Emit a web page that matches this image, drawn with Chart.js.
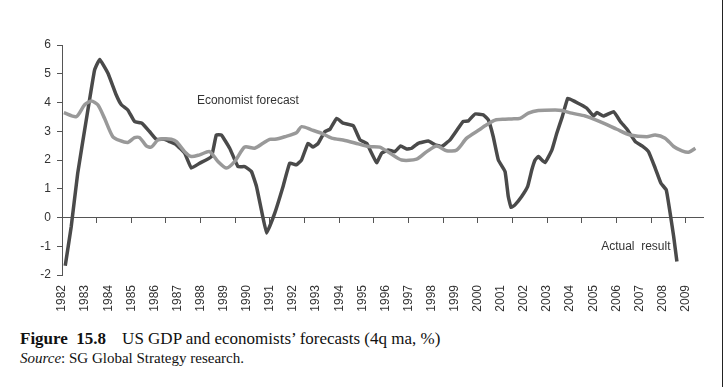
<!DOCTYPE html>
<html>
<head>
  <title>US GDP and economists' forecasts</title>
  <script src="https://cdn.jsdelivr.net/npm/chart.js"></script>
  <style>
    body { margin: 0; background: #fff; width: 724px; height: 387px; position: relative; overflow: hidden; }
    #wrap { position: absolute; left: 0; top: 0; width: 724px; height: 325px; }
    #caption { position: absolute; left: 20px; top: 329px; font-family: "Liberation Serif", serif; color: #111; }
    #caption .title { font-size: 17px; line-height: 20px; white-space: nowrap; }
    #caption .src { font-size: 15px; line-height: 18px; white-space: nowrap; }
    #edge { position: absolute; left: 722px; top: 0; width: 1px; height: 387px; background: #222; }
  </style>
</head>
<body>
  <div id="wrap"><canvas id="myChart" width="724" height="325"></canvas></div>
  <div id="caption">
    <div class="title"><b>Figure&nbsp; 15.8</b><span style="margin-left:16px">US GDP and economists’ forecasts (4q ma, %)</span></div>
    <div class="src"><i>Source</i>: SG Global Strategy research.</div>
  </div>
  <div id="edge"></div>

  <script>
    // values (year as decimal, % as value)
    const actualYears = [1982.14, 1982.40, 1982.68, 1983.05, 1983.41, 1983.63, 1983.99, 1984.35, 1984.57, 1984.85,
      1985.14, 1985.46, 1985.79, 1986.08, 1986.44, 1986.66, 1986.95, 1987.31, 1987.60, 1987.96,
      1988.47, 1988.68, 1988.90, 1989.26, 1989.62, 1989.91, 1990.20, 1990.42, 1990.63, 1990.86,
      1991.21, 1991.57, 1991.86, 1992.15, 1992.37, 1992.65, 1992.87, 1993.09, 1993.38, 1993.60,
      1993.89, 1994.17, 1994.61, 1994.90, 1995.19, 1995.62, 1995.84, 1996.12, 1996.41, 1996.66,
      1996.92, 1997.14, 1997.42, 1997.86, 1998.15, 1998.44, 1998.80, 1999.11, 1999.37, 1999.59,
      1999.88, 2000.24, 2000.46, 2000.67, 2000.89, 2001.18, 2001.32, 2001.44, 2001.61, 2001.90,
      2002.16, 2002.34, 2002.48, 2002.62, 2002.91, 2003.21, 2003.42, 2003.66, 2003.90, 2004.21,
      2004.47, 2004.72, 2005.01, 2005.16, 2005.44, 2005.88, 2006.17, 2006.46, 2006.82, 2007.11,
      2007.39, 2007.68, 2007.93, 2008.16, 2008.34, 2008.48, 2008.62];
    const actualValues = [-1.68, -0.31, 1.54, 3.39, 5.13, 5.50, 5.02, 4.26, 3.92, 3.74,
      3.34, 3.28, 2.99, 2.72, 2.72, 2.64, 2.53, 2.24, 1.72, 1.89,
      2.12, 2.87, 2.87, 2.41, 1.77, 1.77, 1.60, 1.08, 0.27, -0.54,
      0.15, 1.08, 1.89, 1.83, 2.00, 2.58, 2.45, 2.58, 2.99, 3.07,
      3.45, 3.28, 3.19, 2.70, 2.58, 1.91, 2.24, 2.35, 2.29, 2.49,
      2.38, 2.41, 2.58, 2.66, 2.53, 2.47, 2.70, 3.05, 3.34, 3.36,
      3.60, 3.57, 3.39, 2.81, 2.00, 1.60, 0.73, 0.35, 0.44, 0.73,
      1.08, 1.66, 2.00, 2.12, 1.91, 2.35, 2.93, 3.51, 4.15, 4.03,
      3.92, 3.80, 3.53, 3.65, 3.53, 3.68, 3.34, 3.07, 2.64, 2.49,
      2.29, 1.72, 1.19, 0.96, 0.09, -0.66, -1.53];

    const forecastYears = [1982.08, 1982.62, 1982.98, 1983.27, 1983.55, 1983.84, 1984.20, 1984.49, 1984.85, 1985.14,
      1985.36, 1985.65, 1985.87, 1986.15, 1986.44, 1986.73, 1986.95, 1987.31, 1987.60, 1987.96,
      1988.39, 1988.75, 1989.12, 1989.48, 1989.91, 1990.34, 1990.70, 1990.99, 1991.21, 1991.64,
      1992.15, 1992.37, 1992.80, 1993.24, 1993.67, 1994.25, 1994.82, 1995.26, 1995.76, 1996.19,
      1996.70, 1997.35, 1997.79, 1998.22, 1998.65, 1999.09, 1999.52, 2000.10, 2000.31, 2000.75,
      2001.18, 2001.47, 2001.83, 2002.19, 2002.62, 2003.35, 2003.64, 2004.07, 2004.65, 2004.86,
      2005.44, 2006.02, 2006.60, 2007.32, 2007.68, 2008.11, 2008.48, 2008.84, 2009.13, 2009.42];
    const forecastValues = [3.65, 3.51, 3.92, 4.05, 3.92, 3.45, 2.81, 2.68, 2.61, 2.78,
      2.78, 2.49, 2.45, 2.70, 2.74, 2.72, 2.64, 2.29, 2.12, 2.18,
      2.29, 1.95, 1.72, 1.95, 2.45, 2.41, 2.58, 2.72, 2.72, 2.81,
      2.95, 3.16, 3.05, 2.93, 2.76, 2.68, 2.56, 2.47, 2.45, 2.24,
      2.00, 2.03, 2.29, 2.49, 2.32, 2.35, 2.76, 3.07, 3.19, 3.39,
      3.42, 3.43, 3.45, 3.63, 3.72, 3.74, 3.72, 3.63, 3.53, 3.47,
      3.28, 3.07, 2.87, 2.81, 2.87, 2.76, 2.47, 2.32, 2.27, 2.41];

    const yearLabels = [1982, 1983, 1984, 1985, 1986, 1987, 1988, 1989, 1990, 1991, 1992, 1993, 1994, 1995,
      1996, 1997, 1998, 1999, 2000, 2001, 2002, 2003, 2004, 2005, 2006, 2007, 2008, 2009];
    const zeroAxisTicks = [1982, 1983.5, 1985, 1986.5, 1988, 1989.5, 1991, 1992.5, 1994, 1995.5,
      1997, 1998.5, 2000, 2001.5, 2003, 2004.5, 2006, 2007.5, 2009];
    const yTicks = [-2, -1, 0, 1, 2, 3, 4, 5, 6];

    const notes = [
      { text: 'Economist forecast', x: 1987.84, y: 4.05 },
      { text: 'Actual  result', x: 2005.34, y: -1.0 }
    ];

    const toPoints = (xs, ys) => xs.map((x, i) => ({ x: x, y: ys[i] }));

    const notePlugin = {
      id: 'notes',
      beforeDatasetsDraw(chart) {
        const ctx = chart.ctx;
        const sx = chart.scales.x, sy = chart.scales.y;
        ctx.save();
        ctx.font = '12px "Liberation Sans", Arial, sans-serif';
        ctx.fillStyle = '#333';
        ctx.textBaseline = 'middle';
        notes.forEach(n => ctx.fillText(n.text, sx.getPixelForValue(n.x), sy.getPixelForValue(n.y)));
        ctx.restore();
      }
    };

    const ctx = document.getElementById('myChart').getContext('2d');
    new Chart(ctx, {
      type: 'line',
      data: {
        datasets: [{
          label: 'Economist forecast',
          data: toPoints(forecastYears, forecastValues),
          borderColor: '#999999',
          borderWidth: 3.5,
          pointRadius: 0,
          tension: 0.25,
          xAxisID: 'x'
        }, {
          label: 'Actual result',
          data: toPoints(actualYears, actualValues),
          borderColor: '#4a4a4a',
          borderWidth: 3.5,
          pointRadius: 0,
          tension: 0.1,
          xAxisID: 'x'
        }]
      },
      options: {
        responsive: false,
        animation: false,
        events: [],
        layout: { padding: { top: 45, right: 21, left: 0, bottom: 0 } },
        plugins: { legend: { display: false }, tooltip: { enabled: false } },
        scales: {
          x: {
            type: 'linear',
            position: 'bottom',
            min: 1982,
            max: 2009.75,
            afterBuildTicks: s => { s.ticks = yearLabels.map(v => ({ value: v })); },
            afterFit: s => { s.height = 50; },
            border: { display: false },
            grid: { display: false, drawTicks: false },
            ticks: {
              autoSkip: false,
              minRotation: 90,
              maxRotation: 90,
              padding: 10,
              color: '#333',
              font: { family: '"Liberation Sans", Arial, sans-serif', size: 12 },
              callback: v => String(v)
            }
          },
          x0: {
            type: 'linear',
            position: { y: 0 },
            min: 1982,
            max: 2009.75,
            afterBuildTicks: s => { s.ticks = zeroAxisTicks.map(v => ({ value: v })); },
            border: { color: '#555', width: 1 },
            grid: { drawOnChartArea: false, color: '#555', tickLength: 5 },
            ticks: { display: false }
          },
          y: {
            min: -2,
            max: 6,
            afterBuildTicks: s => { s.ticks = yTicks.map(v => ({ value: v })); },
            afterFit: s => { s.width = 62; },
            border: { color: '#555', width: 1 },
            grid: { drawOnChartArea: false, color: '#555', tickLength: 5 },
            ticks: {
              padding: 6,
              color: '#333',
              font: { family: '"Liberation Sans", Arial, sans-serif', size: 12 }
            }
          }
        }
      },
      plugins: [notePlugin]
    });
  </script>
</body>
</html>
